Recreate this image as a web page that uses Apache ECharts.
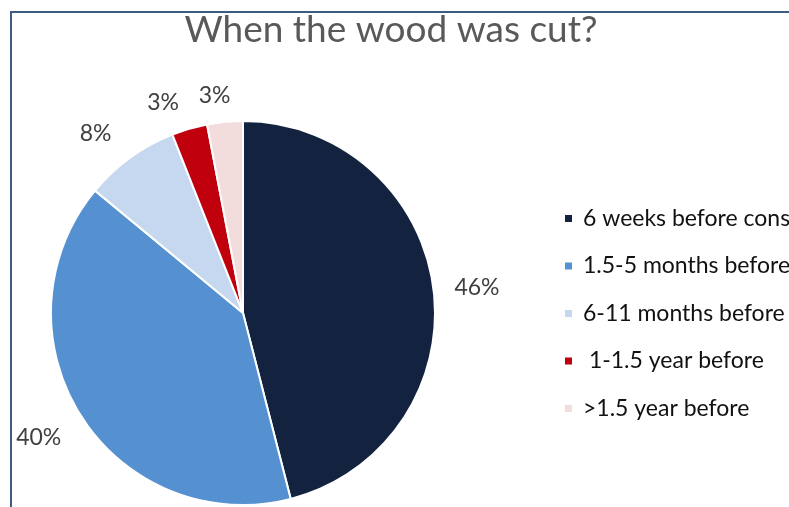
<!DOCTYPE html>
<html>
<head>
<meta charset="utf-8">
<script src="https://cdn.jsdelivr.net/npm/echarts@6/dist/echarts.min.js"></script>
<style>
html,body{margin:0;padding:0;background:#fff;}
#wrap{position:relative;width:789px;height:507px;overflow:hidden;}
#frame{position:absolute;left:10px;top:11px;width:900px;height:600px;border-left:2px solid #3e5b82;border-top:2px solid #3e5b82;}
#chart{position:absolute;left:0;top:0;width:789px;height:507px;}
</style>
</head>
<body>
<div id="wrap"><div id="frame"></div><div id="chart"></div></div>
<script>
var titleText = 'When the wood was cut?';
var categories = ['6 weeks before construction', '1.5-5 months before construction', '6-11 months before construction', ' 1-1.5 year before', '>1.5 year before'];
var values = [46, 40, 8, 3, 3];
var colors = ['#13233f', '#5590d1', '#c5d8ef', '#c1000d', '#f3dcdc'];
var labelLen = [12, 41, 30, 27, 26];
var labelLen2 = [4, -20, -4, -2, -13];

var chart = echarts.init(document.getElementById('chart'), null, {renderer: 'canvas'});
var data = categories.map(function (name, i) {
  return {
    name: name,
    value: values[i],
    itemStyle: {color: colors[i]},
    labelLine: {show: false, length: labelLen[i], length2: labelLen2[i]}
  };
});
chart.setOption({
  backgroundColor: 'transparent',
  animation: false,
  title: {
    text: titleText,
    left: 386,
    textAlign: 'center',
    top: 7,
    textStyle: {fontFamily: 'Lato', fontSize: 37, fontWeight: 'normal', color: '#595959'}
  },
  legend: {
    orient: 'vertical',
    left: 558,
    top: 202,
    itemWidth: 9,
    itemHeight: 9,
    itemGap: 24.5,
    icon: 'rect',
    textStyle: {fontFamily: 'Lato', fontSize: 23, color: '#111', padding: [0, 0, 0, 5]},
    data: categories
  },
  series: [{
    type: 'pie',
    center: [243, 313],
    radius: 192,
    startAngle: 90,
    clockwise: true,
    avoidLabelOverlap: false,
    itemStyle: {borderColor: '#fff', borderWidth: 2},
    label: {
      show: true,
      position: 'outside',
      formatter: '{c}%',
      fontFamily: 'Lato',
      fontSize: 23,
      color: '#404040',
      distanceToLabelLine: 5
    },
    labelLine: {show: false},
    data: data
  }]
});
</script>
</body>
</html>
